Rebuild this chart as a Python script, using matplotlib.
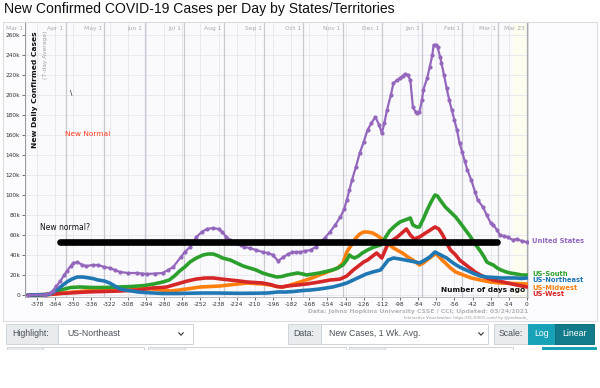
import matplotlib
matplotlib.use('Agg')
import matplotlib.pyplot as plt
from matplotlib.patches import Rectangle
from matplotlib.lines import Line2D
from matplotlib.transforms import blended_transform_factory

# ---- data (days before 2021-03-23, 7-day avg new cases in thousands) ----
us_days = [-385, -372, -368, -366, -363, -360, -357, -355, -352, -350, -347, -343, -340, -335, -331,
           -326, -322, -318, -314, -308, -301, -297, -293, -287, -281, -277, -273, -267, -264, -260,
           -255, -251, -247, -242, -238, -235, -232, -229, -225, -221, -218, -214, -209, -204, -200,
           -196, -192, -188, -184, -181, -178, -175, -171, -167, -163, -160, -156, -152, -148, -144,
           -141, -139, -137, -135, -132, -129, -126, -123, -120, -117, -114, -112, -110, -108, -105,
           -103, -100, -98, -96, -94, -92, -90, -88, -86, -85, -83, -81, -80, -77, -75, -73, -72,
           -70, -69, -67, -66, -64, -62, -60, -58, -56, -54, -52, -50, -48, -46, -43, -40, -38,
           -34, -31, -28, -26, -23, -21, -18, -15, -11, -8, -4, 0]
us_vals = [0, 0.3, 2, 4, 9, 14, 20, 24, 29, 32, 33, 30, 29, 30, 30,
           28, 27, 25, 23, 22, 22, 21.5, 21, 21.5, 22, 25, 28, 38, 43, 48,
           58, 63, 66, 67, 66, 63, 58, 55, 52, 50, 48, 47, 45, 43, 42,
           40, 34, 38, 41, 43, 43, 43, 44, 45, 48, 52, 57, 63, 70, 78,
           86, 95, 105, 115, 128, 142, 153, 165, 172, 178, 170, 162, 172, 185, 200,
           212, 215, 217, 219, 221, 220, 215, 188, 183, 182, 183, 195, 205, 217, 228, 240, 250,
           250, 248, 238, 232, 220, 207, 195, 185, 175, 165, 152, 143, 134, 125, 115, 103, 95,
           88, 80, 72, 70, 65, 60, 59, 58, 55, 56, 54, 53]

south_days = [-385, -372, -366, -362, -357, -352, -345, -335, -325, -315, -305, -295, -288, -281, -276,
              -272, -268, -264, -260, -255, -250, -246, -242, -238, -235, -229, -224, -219, -214, -209,
              -204, -199, -193, -189, -185, -181, -177, -173, -170, -165, -160, -155, -150, -146, -142,
              -139, -137, -135, -133, -130, -127, -123, -118, -113, -110, -106, -102, -98, -94, -90,
              -88, -85, -83, -80, -77, -74, -71, -69, -67, -63, -59, -55, -52, -48, -44, -40, -36,
              -33, -31, -28, -26, -23, -20, -16, -13, -8, -4, 0]
south_vals = [0, 0.3, 1.5, 4, 6, 7.5, 8, 7.5, 7.5, 8, 8.5, 9.5, 11, 13, 15,
              19, 24, 28, 33, 37, 40, 41, 41, 39, 37, 35, 32, 29, 27, 25,
              22, 20, 18, 18.5, 20, 21, 22, 21, 20, 21, 22, 23.5, 25, 27, 30,
              35, 40, 38, 37, 39, 42, 45, 48, 50, 56, 64, 69, 73, 75, 77,
              70, 68, 68, 76, 85, 93, 100, 99, 95, 88, 83, 78, 73, 66, 59, 51, 44,
              38, 33, 31, 30, 27, 25, 23, 22, 21, 20, 20]

northeast_days = [-385, -372, -368, -365, -362, -358, -355, -351, -347, -343, -340, -335, -331, -326,
                  -322, -318, -314, -310, -305, -300, -295, -288, -281, -270, -260, -250, -240, -230,
                  -220, -210, -200, -192, -186, -180, -173, -167, -160, -150, -144, -139, -134, -129,
                  -124, -119, -113, -110, -107, -103, -98, -94, -90, -86, -83, -80, -75, -71, -68,
                  -62, -57, -52, -47, -42, -36, -31, -25, -20, -14, -8, -4, 0]
northeast_vals = [0, 0.3, 1, 3, 6, 10, 13, 16, 18, 18, 17.5, 16.5, 15, 14,
                  12, 9, 6, 5, 4, 3, 2.5, 2, 1.5, 1.5, 1.8, 2, 2, 1.8,
                  1.7, 1.8, 2, 3, 3, 3.5, 4.5, 5, 6, 8, 10, 12, 15, 18,
                  21, 23, 25, 30, 35, 37, 36, 35, 34, 33, 32, 34, 38, 43, 41,
                  37, 32, 28, 25, 22, 19, 18, 17.5, 17, 17, 17, 16.5, 17]

midwest_days = [-385, -370, -364, -357, -350, -340, -330, -320, -310, -301, -295, -289, -283, -275,
                -268, -260, -252, -244, -237, -230, -223, -216, -210, -204, -198, -193, -189, -185,
                -180, -175, -168, -160, -155, -150, -146, -142, -139, -137, -134, -132, -129, -126,
                -123, -119, -115, -111, -107, -103, -99, -96, -92, -88, -85, -83, -80, -77, -74,
                -71, -69, -67, -63, -59, -55, -49, -43, -36, -28, -21, -10, 0]
midwest_vals = [0, 0.3, 1, 2, 3, 4, 5, 6.5, 7, 7, 6.5, 6, 5, 4,
                5, 6.5, 8, 8.5, 9, 10, 11, 12, 11.5, 11, 10, 8.5, 8, 9,
                11, 13, 16, 20, 22.5, 25, 27, 32, 43, 47, 53, 57, 61, 63,
                63, 62, 59, 55, 51, 47, 44, 42, 38, 35, 32, 30, 32, 35, 38,
                41, 40, 37, 32, 27, 23, 20, 17, 15, 13, 12, 11.5, 11]

west_days = [-385, -370, -360, -353, -340, -327, -314, -300, -289, -282, -278, -274, -270, -266,
             -262, -255, -248, -242, -236, -229, -222, -216, -210, -204, -198, -193, -189, -185,
             -177, -170, -165, -158, -152, -147, -144, -139, -134, -130, -126, -123, -116, -112,
             -107, -100, -93, -90, -87, -83, -77, -71, -68, -65, -62, -59, -55, -52, -48, -44,
             -40, -36, -31, -26, -20, -15, -8, 0]
west_vals = [0, 0.5, 1.5, 2, 3, 3.5, 4, 5, 7, 7.5, 8, 9.5, 11, 12.5,
             14, 16, 17, 17, 16, 15, 14, 13, 12.5, 12, 10.5, 8.5, 8, 9,
             10, 11, 12, 13.5, 15, 15.5, 16, 19, 25, 29, 33, 35, 42, 37,
             52, 58, 66, 60, 56, 58, 63, 68, 66, 60, 52, 45, 40, 35, 31, 27,
             23, 20, 17, 15, 13.5, 12, 10, 8]

# annotation line ("New normal?")
normal_days = [-360, -23]
normal_level = [53, 53]

month_labels = ['Mar 1', 'Apr 1', 'May 1', 'Jun 1', 'Jul 1', 'Aug 1', 'Sep 1', 'Oct 1',
                'Nov 1', 'Dec 1', 'Jan 1', 'Feb 1', 'Mar 1', 'Mar 23']
month_days = [-387, -356, -326, -295, -265, -234, -203, -173, -142, -112, -81, -50, -22, 0]

x_ticks = list(range(-378, 1, 14))
y_ticks = list(range(0, 261, 20))

PURPLE = '#9467bd'
GREEN = '#2ca02c'
BLUE = '#1f77b4'
ORANGE = '#ff7f0e'
RED = '#d62728'

W, H = 600, 388


def px(x, y):
    return x / W, 1 - y / H


fig = plt.figure(figsize=(W / 100, H / 100), dpi=100)
fig.patch.set_facecolor('white')

# card around the chart
fig.add_artist(Rectangle(px(3, 321), 594 / W, 299 / H, transform=fig.transFigure,
                         facecolor='#fcfcfe', edgecolor='#dcdce2', lw=0.8, zorder=0))

ax = fig.add_axes([25 / W, 1 - 297 / H, 503 / W, 275 / H])
ax.set_facecolor('#fafafd')
ax.set_xlim(-387.3, 0.8)
ax.set_ylim(-2, 273)

# light yellow band for the most recent days
ax.axvspan(-11, 0, color='#fdfdf0', zorder=0)

for d in x_ticks:
    ax.axvline(d, color='#e6e6ee', lw=0.6, zorder=1)
for v in y_ticks:
    ax.axhline(v, color='#e6e6ee', lw=0.6, zorder=1)
trans = blended_transform_factory(ax.transData, ax.transAxes)
for lab, d in zip(month_labels, month_days):
    ax.axvline(d, color='#c9c9d2' if lab != 'Mar 23' else '#a8a8b0', lw=0.9, zorder=1)
    ax.text(d - 1.5, 0.975, lab, transform=trans, ha='right', va='center',
            fontsize=4.3, color='#a8a8b0')

kw = dict(lw=2.6, solid_capstyle='round', solid_joinstyle='round')
ax.plot(midwest_days, midwest_vals, color=ORANGE, zorder=3, **kw)
ax.plot(south_days, south_vals, color=GREEN, zorder=3, **kw)
ax.plot(west_days, west_vals, color=RED, zorder=4, **kw)
ax.plot(northeast_days, northeast_vals, color=BLUE, zorder=4, **kw)
ax.plot(us_days, us_vals, color=PURPLE, lw=1.6, marker='o', markersize=2.0, zorder=5)

ax.plot(normal_days, normal_level, color='black', lw=4.8, solid_capstyle='round', zorder=10)

# annotations
ax.text(-376, 67, 'New normal?', fontsize=5.5, color='#111', va='center', ha='left', zorder=11)
ax.text(-356.5, 161, 'New Normal', fontsize=5.3, color='#ff3b1f', va='center', ha='left')
ax.text(-352.6, 202, '\\', fontsize=5, color='#111', va='center', ha='left')
ax.text(-1.5, 5, 'Number of days ago', fontsize=5.3, fontweight='bold', color='#111',
        ha='right', va='center', zorder=11)

# series labels on the right
for lab, yv, col in [('United States', 54, PURPLE), ('US-South', 21.5, GREEN),
                     ('US-Northeast', 14.5, BLUE), ('US-Midwest', 7.5, ORANGE),
                     ('US-West', 0.5, RED)]:
    ax.text(4, yv, lab, fontsize=4.9, fontweight='bold', color=col, ha='left', va='center',
            clip_on=False)

ax.set_xticks(x_ticks)
ax.set_xticklabels([str(t) for t in x_ticks])
ax.set_yticks(y_ticks)
ax.set_yticklabels(['0' if v == 0 else f'{v}k' for v in y_ticks])
ax.tick_params(axis='both', labelsize=4.2, colors='#555', length=2, width=0.6, pad=1.5)
ax.tick_params(axis='x', labelcolor='#333')
ax.tick_params(axis='y', labelcolor='#333')
for s in ['top', 'right']:
    ax.spines[s].set_color('#d8d8e0')
    ax.spines[s].set_linewidth(0.7)
ax.spines['left'].set_color('#999')
ax.spines['bottom'].set_color('#bbb')
ax.spines['left'].set_linewidth(0.7)
ax.spines['bottom'].set_linewidth(0.7)

# axis titles inside plot
fig.text(35 / W, 1 - 31 / H, 'New Daily Confirmed Cases', rotation=90, ha='center', va='top',
         fontsize=5.4, fontweight='bold', color='#111')
fig.text(45 / W, 1 - 31 / H, '(7-day Average)', rotation=90, ha='center', va='top',
         fontsize=4.3, color='#a0a0a0')

# title
fig.text(4 / W, 1 - 9 / H, 'New Confirmed COVID-19 Cases per Day by States/Territories',
         fontsize=10.1, family='Liberation Sans', color='#111', ha='left', va='center')

# source text
fig.text(528 / W, 1 - 311.5 / H, 'Data: Johns Hopkins University CSSE / CCI; Updated: 03/24/2021',
         fontsize=4.4, fontweight='bold', color='#b5b5bb', ha='right', va='center')
fig.text(528 / W, 1 - 317.5 / H, 'Interactive Visualization: https://91-DIVOC.com/ by @profwade_',
         fontsize=2.8, color='#999', ha='right', va='center')


# ---- UI controls below the chart ----
def box(x0, y0, x1, y1, fc, ec='#ced4da'):
    fig.add_artist(Rectangle(px(x0, y1), (x1 - x0) / W, (y1 - y0) / H, transform=fig.transFigure,
                             facecolor=fc, edgecolor=ec, lw=0.7))


def chevron(x, y):
    xs = [x - 2.2, x, x + 2.2]
    ys = [y - 1.2, y + 1.2, y - 1.2]
    fig.add_artist(Line2D([a / W for a in xs], [1 - b / H for b in ys], transform=fig.transFigure,
                          color='#333', lw=0.8))


ui_font = dict(fontsize=6.3, va='center', family='Liberation Sans')
box(6, 324, 58, 344, '#e9ecef')
box(58, 324, 193, 344, 'white')
fig.text(*px(12, 334), 'Highlight:', color='#495057', **ui_font)
fig.text(*px(67, 334), 'US-Northeast', color='#495057', **ui_font)
chevron(181, 334)

box(288, 324, 321, 344, '#e9ecef')
box(321, 324, 488, 344, 'white')
fig.text(*px(293, 334), 'Data:', color='#495057', **ui_font)
fig.text(*px(329, 334), 'New Cases, 1 Wk. Avg.', color='#495057', **ui_font)
chevron(481, 334)

box(494, 324, 528, 344, '#e9ecef')
fig.text(*px(499, 334), 'Scale:', color='#495057', **ui_font)
box(528, 324, 555, 344, '#17a2b8', ec='#17a2b8')
box(555, 324, 594, 344, '#117a8b', ec='#10707f')
fig.text(*px(541.5, 334), 'Log', color='white', ha='center', **ui_font)
fig.text(*px(574.5, 334), 'Linear', color='white', ha='center', **ui_font)

# second row of controls, cut off at the bottom
for x0, x1, split in [(7, 144, 43), (148, 346, 185), (349, 513, 385)]:
    box(x0, 347, split, 353, '#e9ecef')
    box(split, 347, x1, 353, 'white')
box(542, 347, 596, 353, '#17a2b8', ec='#17a2b8')
fig.add_artist(Rectangle((0, 0), 1, 1 - 350 / H, transform=fig.transFigure,
                         facecolor='white', edgecolor='none', zorder=5))

fig.savefig('out.png', dpi=100)
